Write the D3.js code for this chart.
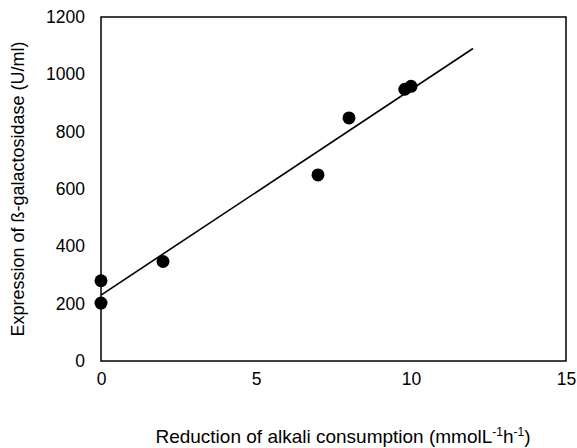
<!DOCTYPE html>
<html><head><meta charset="utf-8">
<script src="https://cdn.jsdelivr.net/npm/d3@7"></script>
<style>body{margin:0;background:#fff}svg{display:block}text{font-family:"Liberation Sans",Arial,sans-serif;fill:#000}</style>
</head><body>
<svg id="c" width="577" height="448"></svg>
<script>
const xValues = [0, 0, 2, 7, 8, 9.8, 10.0];
const yValues = [280, 202, 347, 649, 848, 948, 958];
const fitX = [0, 12];
const fitY = [230, 1090];
const xTicks = [0, 5, 10, 15];
const yTicks = [0, 200, 400, 600, 800, 1000, 1200];

const svg = d3.select("#c");
const m = {l:101, r:566, t:17, b:361};
const x = d3.scaleLinear().domain([0,15]).range([m.l, m.r]);
const y = d3.scaleLinear().domain([0,1200]).range([m.b, m.t]);

svg.append("rect").attr("x",m.l).attr("y",m.t).attr("width",m.r-m.l).attr("height",m.b-m.t)
  .attr("fill","none").attr("stroke","#000").attr("stroke-width",1.5);

const xa = svg.append("g").attr("transform",`translate(0,${m.b})`)
  .call(d3.axisBottom(x).tickValues(xTicks).tickSize(0).tickPadding(12).tickFormat(d3.format("d")));
xa.select(".domain").remove();
xa.selectAll("text").style("font-size","17.5px").style("font-family","Liberation Sans, Arial, sans-serif");

const ya = svg.append("g").attr("transform",`translate(${m.l},0)`)
  .call(d3.axisLeft(y).tickValues(yTicks).tickSize(0).tickPadding(16).tickFormat(d3.format("d")));
ya.select(".domain").remove();
ya.selectAll("text").style("font-size","17.5px").style("font-family","Liberation Sans, Arial, sans-serif");

svg.append("line").attr("x1",x(fitX[0])).attr("y1",y(fitY[0])).attr("x2",x(fitX[1])).attr("y2",y(fitY[1]))
  .attr("stroke","#000").attr("stroke-width",1.6);

svg.selectAll("circle.p").data(xValues.map((v,i)=>[v,yValues[i]])).enter().append("circle")
  .attr("class","p").attr("cx",d=>x(d[0])).attr("cy",d=>y(d[1])).attr("r",6.5).attr("fill","#000");

const xt = svg.append("text").attr("x",343).attr("y",443).attr("text-anchor","middle").style("font-size","19px");
xt.append("tspan").text("Reduction of alkali consumption (mmolL");
xt.append("tspan").style("font-size","12px").attr("dy",-7).text("-1");
xt.append("tspan").attr("dy",7).text("h");
xt.append("tspan").style("font-size","12px").attr("dy",-7).text("-1");
xt.append("tspan").attr("dy",7).text(")");

svg.append("text").attr("transform",`translate(24,${(m.t+m.b)/2}) rotate(-90)`).attr("text-anchor","middle")
  .style("font-size","18px").text("Expression of ß-galactosidase (U/ml)");
</script>
</body></html>
